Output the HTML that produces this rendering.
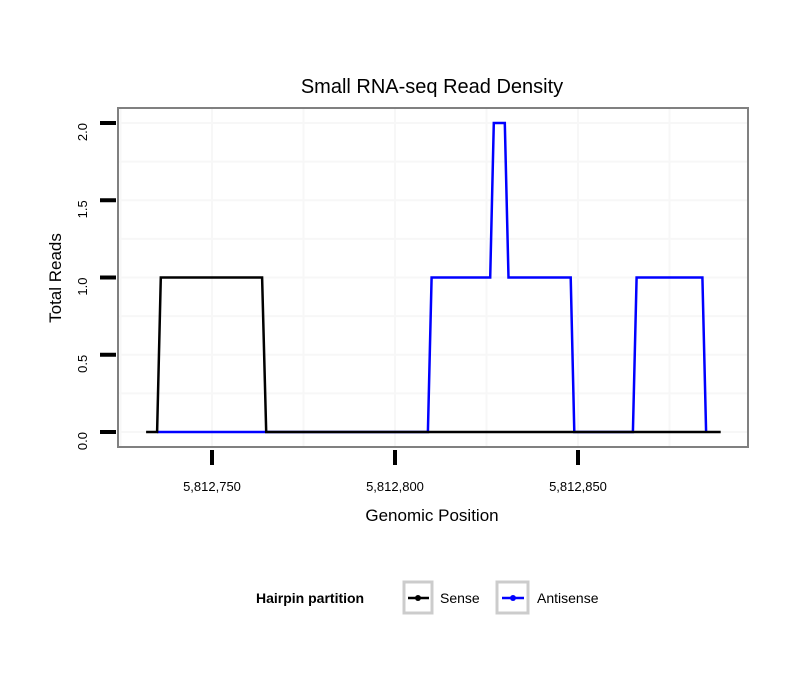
<!DOCTYPE html>
<html><head><meta charset="utf-8"><style>
body{margin:0;background:#fff;}
svg{display:block;font-family:"Liberation Sans",sans-serif;}
</style></head><body>
<svg id="chart" width="810" height="690">
<rect x="0" y="0" width="810" height="690" fill="#fff"/>
<text x="432" y="93" font-size="20" text-anchor="middle" fill="#000">Small RNA-seq Read Density</text>
<g id="grid"></g>
<g id="series"></g>
<rect x="118" y="108" width="630" height="339" fill="none" stroke="#808080" stroke-width="2"/>
<g id="axes"></g>
<text x="432" y="521" font-size="17" text-anchor="middle">Genomic Position</text>
<text transform="translate(61,278) rotate(-90)" font-size="17" text-anchor="middle">Total Reads</text>
<g>
<text x="256" y="603" font-size="14" font-weight="bold">Hairpin partition</text>
<g>
<rect x="404" y="582" width="28" height="31" fill="#fff" stroke="#ccc" stroke-width="3"/>
<line x1="408" y1="598" x2="429" y2="598" stroke="#000" stroke-width="2.5"/>
<circle cx="418" cy="598" r="3" fill="#000"/>
<text x="440" y="603" font-size="14">Sense</text>
</g>
<g>
<rect x="497" y="582" width="31" height="31" fill="#fff" stroke="#ccc" stroke-width="3"/>
<line x1="502" y1="598" x2="524" y2="598" stroke="#0000ff" stroke-width="2.5"/>
<circle cx="513" cy="598" r="3" fill="#0000ff"/>
<text x="537" y="603" font-size="14">Antisense</text>
</g>
</g>
</svg>
<script>
const senseX=[5812732,5812735,5812736,5812763.7,5812764.8,5812889];
const senseY=[0,0,1,1,0,0];
const antiX=[5812735,5812809,5812810,5812826,5812827,5812830,5812831,5812848,5812849,5812865,5812866,5812884,5812885];
const antiY=[0,0,1,1,2,2,1,1,0,0,1,1,0];
const xTicks=[5812750,5812800,5812850];
const xTickLabels=["5,812,750","5,812,800","5,812,850"];
const yTicks=[0,0.5,1,1.5,2];
const yTickLabels=["0.0","0.5","1.0","1.5","2.0"];

const NS="http://www.w3.org/2000/svg";
function xs(v){return 212+(v-5812750)*3.66;}
function ys(v){return 432-v*154.5;}
function mk(tag,attrs,parent){const e=document.createElementNS(NS,tag);for(const k in attrs)e.setAttribute(k,attrs[k]);parent.appendChild(e);return e;}
const grid=document.getElementById('grid'),series=document.getElementById('series'),axes=document.getElementById('axes');
for(let v=0;v<=2;v+=0.25){
  const g=mk('line',{x1:119,x2:747,y1:ys(v),y2:ys(v),stroke:'#f7f7f7','stroke-width':2},grid);
  
  
}
for(let v=5812725;v<=5812900;v+=25){
  const X=xs(v); if(X<119||X>747)continue;
  const g=mk('line',{x1:X,x2:X,y1:109,y2:446,stroke:'#f7f7f7','stroke-width':2},grid);
  
  
}
function path(xa,ya){return xa.map((x,i)=>(i?'L':'M')+xs(x).toFixed(1)+' '+ys(ya[i]).toFixed(1)).join(' ');}
const pa=mk('path',{d:path(antiX,antiY),fill:'none',stroke:'#0000ff','stroke-width':2.5},series);


const ps=mk('path',{d:path(senseX,senseY),fill:'none',stroke:'#000','stroke-width':2.5},series);


xTicks.forEach((v,i)=>{
  const t=mk('line',{x1:xs(v),x2:xs(v),y1:450,y2:465,stroke:'#000','stroke-width':4},axes);
  
  
  const l=mk('text',{x:xs(v),y:491,'font-size':13,'text-anchor':'middle'},axes);
  l.textContent=xTickLabels[i];
  
  
});
yTicks.forEach((v,i)=>{
  const t=mk('line',{x1:100,x2:116,y1:ys(v),y2:ys(v),stroke:'#000','stroke-width':4},axes);
  
  
  const l=mk('text',{transform:'translate(87,'+ys(v)+') rotate(-90)','font-size':13,'text-anchor':'end'},axes);
  l.textContent=yTickLabels[i];
  
  
});
</script>
</body></html>
